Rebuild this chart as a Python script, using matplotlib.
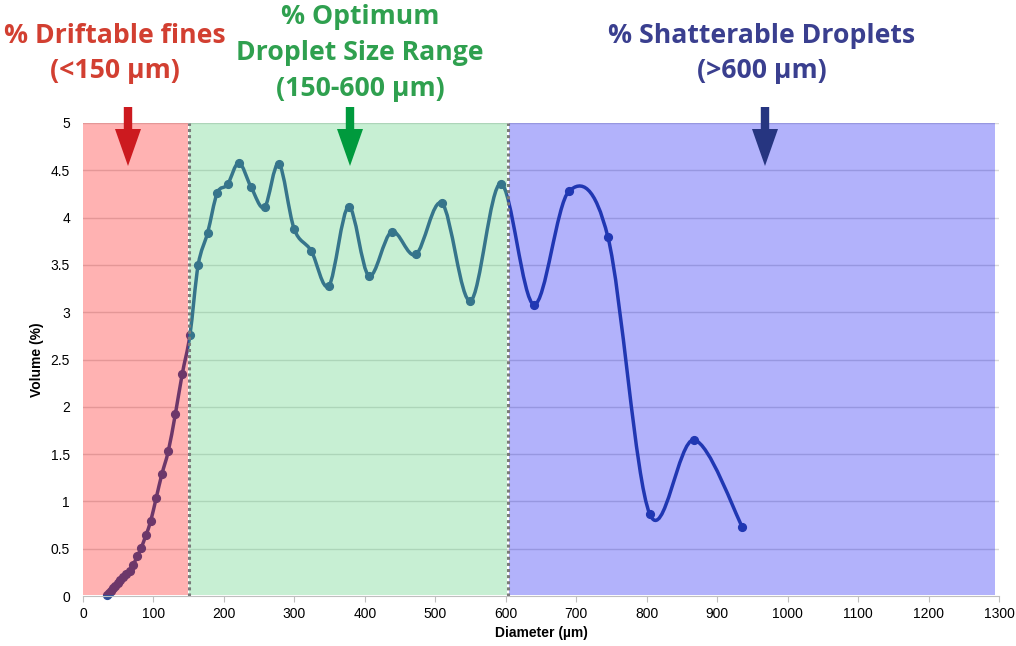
import matplotlib
matplotlib.use("Agg")
import matplotlib.pyplot as plt
from matplotlib.path import Path
from matplotlib.patches import PathPatch, Polygon, Rectangle

plt.rcParams['font.family'] = ['Liberation Sans', 'DejaVu Sans']

# droplet size distribution
diameter_um = [33.6, 36.2, 39.1, 42.1, 45.4, 49.0, 52.8, 57.0, 61.4, 66.3,
               71.3, 77.0, 82.7, 89.4, 96.0, 104.0, 112.0, 121.0, 131.0, 140.9,
               151.8, 163.5, 176.9, 190.5, 205.2, 221.3, 238.7, 257.7, 278.0, 299.7,
               323.8, 349.0, 376.9, 405.7, 437.9, 472.3, 509.6, 549.9, 592.9, 640.1,
               689.8, 745.1, 804.3, 867.1, 935.7]
volume_pct = [0.01, 0.03, 0.05, 0.08, 0.11, 0.14, 0.17, 0.20, 0.23, 0.26,
              0.33, 0.42, 0.51, 0.645, 0.79, 1.04, 1.29, 1.53, 1.92, 2.35,
              2.76, 3.50, 3.84, 4.26, 4.35, 4.58, 4.32, 4.11, 4.57, 3.88,
              3.65, 3.28, 4.115, 3.385, 3.85, 3.61, 4.15, 3.12, 4.36, 3.08,
              4.28, 3.79, 0.867, 1.65, 0.73]

# shaded size classes: (start, end, colour)
zones = [(0, 149, "#ff0000"), (151, 602, "#48cd70"), (604, 1295, "#0000f2")]
zone_lines = [150, 603]

x_ticks = list(range(0, 1301, 100))
y_ticks = [0, 0.5, 1, 1.5, 2, 2.5, 3, 3.5, 4, 4.5, 5]
y_tick_labels = ["0", "0.5", "1", "1.5", "2", "2.5", "3", "3.5", "4", "4.5", "5"]

LINE_COLOR = "#2f4f98"


def smooth_path(xs, ys):
    """Excel style smoothed line: cubic bezier through every point"""
    pts = list(zip(xs, ys))
    verts = [pts[0]]
    codes = [Path.MOVETO]
    n = len(pts)
    for i in range(n - 1):
        p0 = pts[max(i - 1, 0)]
        p1 = pts[i]
        p2 = pts[i + 1]
        p3 = pts[min(i + 2, n - 1)]
        c1 = (p1[0] + (p2[0] - p0[0]) / 6, p1[1] + (p2[1] - p0[1]) / 6)
        c2 = (p2[0] - (p3[0] - p1[0]) / 6, p2[1] - (p3[1] - p1[1]) / 6)
        verts += [c1, c2, p2]
        codes += [Path.CURVE4] * 3
    return Path(verts, codes)


fig = plt.figure(figsize=(10.16, 6.46), dpi=100)
ax = fig.add_axes([83 / 1016, 50 / 646, 916 / 1016, 473 / 646])

ax.set_xlim(0, 1300)
ax.set_ylim(0, 5)
for tick in y_ticks[1:]:
    ax.axhline(tick, color="#d9d9d9", lw=1, zorder=1)

ax.add_patch(PathPatch(smooth_path(diameter_um, volume_pct), facecolor="none",
                       edgecolor=LINE_COLOR, lw=2.5, zorder=2))
ax.plot(diameter_um, volume_pct, "o", color=LINE_COLOR, ms=5.6, zorder=2,
        clip_on=False)

for start, end, color in zones:
    ax.add_patch(Rectangle((start, 0.015), end - start, 4.985, facecolor=color,
                           alpha=0.3, lw=0, zorder=3))
for xv in zone_lines:
    ax.vlines(xv, 0, 5, colors="#7a7a7a", linestyles=(0, (1, 1)), lw=2.2, zorder=4)

ax.set_xticks(x_ticks)
ax.set_xticklabels([str(v) for v in x_ticks])
ax.set_yticks(y_ticks)
ax.set_yticklabels(y_tick_labels)
ax.tick_params(axis="x", length=4, color="#bfbfbf", labelsize=10, pad=4)
ax.tick_params(axis="y", length=0, labelsize=10, pad=9.4)
for side in ["left", "right", "top"]:
    ax.spines[side].set_visible(False)
ax.spines["bottom"].set_color("#bfbfbf")
ax.spines["bottom"].set_zorder(5)

ax.set_xlabel("Diameter (µm)", fontsize=10, fontweight="bold")
ax.set_ylabel("Volume (%)", fontsize=10, fontweight="bold")
ax.xaxis.set_label_coords(0.5, -0.063)
ax.yaxis.set_label_coords(-0.043, 0.5)

# header texts and arrows in pixel coordinates
over = fig.add_axes([0, 0, 1, 1])
over.set_xlim(0, 1016)
over.set_ylim(646, 0)
over.axis("off")

headers = [
    (115, [("% Driftable fines", 43), ("(<150 µm)", 78)], "#d23f31"),
    (360, [("% Optimum", 24), ("Droplet Size Range", 60), ("(150-600 µm)", 96)], "#2fa04f"),
    (762, [("% Shatterable Droplets", 43), ("(>600 µm)", 78)], "#3a3f8f"),
]
for cx, lines, color in headers:
    for txt, base in lines:
        over.text(cx, base, txt, ha="center", va="baseline", color=color,
                  fontsize=19.2, fontweight="bold", family=["Open Sans", "DejaVu Sans"])

arrows = [(128, "#cc1a1f"), (350, "#009a3d"), (765, "#263580")]
for cx, color in arrows:
    shaft, head = 4.2, 13
    verts = [(cx - shaft, 107), (cx + shaft, 107), (cx + shaft, 129),
             (cx + head, 129), (cx, 166), (cx - head, 129), (cx - shaft, 129)]
    over.add_patch(Polygon(verts, closed=True, facecolor=color, lw=0))

fig.savefig("out.png", dpi=100)
